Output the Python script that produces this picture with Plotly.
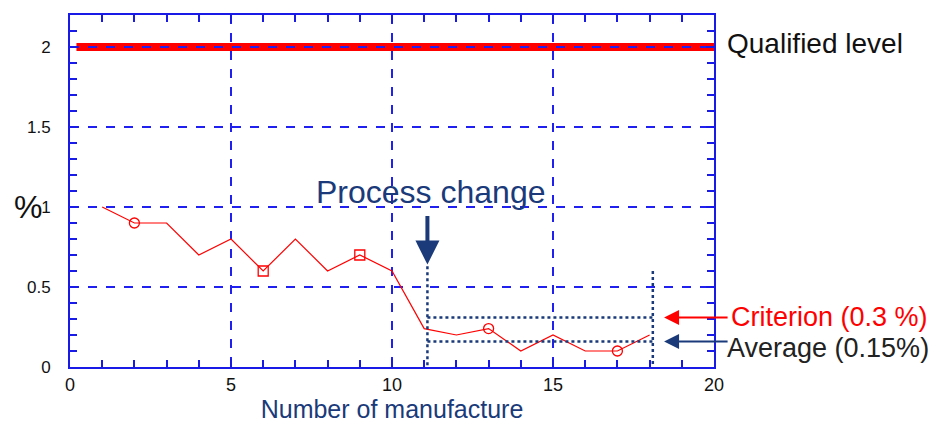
import plotly.graph_objects as go

manufacture = list(range(1, 19))
percent = [1.0, 0.9, 0.9, 0.7, 0.8, 0.6, 0.8, 0.6, 0.7, 0.6,
           0.24, 0.2, 0.24, 0.1, 0.2, 0.1, 0.1, 0.2]
marker_idx = [2, 6, 9, 13, 17]
marker_sym = ["circle-open", "square-open", "square-open", "circle-open", "circle-open"]
qualified_level = 2.0
criterion = 0.31
average = 0.16
change_start = 11.1
change_end = 18.1
xticks = [0, 5, 10, 15, 20]
yticks = [0, 0.5, 1, 1.5, 2]

axis_col = "#1a1ae6"
grid_col = "#2020f0"
navy = "#1a3a7a"
red = "#ff0000"
font = "Liberation Sans"

fig = go.Figure()
fig.add_trace(go.Scatter(x=manufacture, y=percent, mode="lines",
                         line=dict(color=red, width=1.2), showlegend=False))
fig.add_trace(go.Scatter(x=marker_idx, y=[percent[i - 1] for i in marker_idx], mode="markers",
                         marker=dict(symbol=marker_sym, color=red, size=10, line=dict(width=1.3, color=red)),
                         showlegend=False))
# carrier trace for the overlay axes that draw the minor ticks
fig.add_trace(go.Scatter(x=manufacture, y=percent, xaxis="x2", yaxis="y2", mode="lines",
                         line=dict(width=0), opacity=0, hoverinfo="skip", showlegend=False))

fig.add_shape(type="line", x0=0.2, x1=20, y0=qualified_level, y1=qualified_level,
              line=dict(color=red, width=8), layer="below")

dot = dict(color=navy, width=2.5, dash="dot")
fig.add_shape(type="line", x0=change_start, x1=change_start, y0=0.63, y1=-0.06, line=dot)
fig.add_shape(type="line", x0=change_end, x1=change_end, y0=0.6, y1=-0.06, line=dot)
fig.add_shape(type="line", x0=change_start, x1=change_end, y0=criterion, y1=criterion, line=dot)
fig.add_shape(type="line", x0=change_start, x1=change_end, y0=average, y1=average, line=dot)

fig.add_annotation(x=11.1, y=0.64, ax=0, ay=-50, showarrow=True, arrowhead=2, arrowsize=1.2,
                   arrowwidth=4, arrowcolor=navy, text="")
fig.add_annotation(x=11.2, y=0.97, text="Process change", showarrow=False,
                   font=dict(family=font, size=32, color=navy), yanchor="bottom")

fig.add_annotation(x=18.45, y=criterion, ax=65, ay=0, showarrow=True, arrowhead=2, arrowsize=1.5,
                   arrowwidth=2, arrowcolor=red, text="")
fig.add_annotation(x=18.45, y=average, ax=65, ay=0, showarrow=True, arrowhead=2, arrowsize=1.5,
                   arrowwidth=2, arrowcolor=navy, text="")
fig.add_annotation(xref="paper", x=1.024, y=criterion, text="Criterion (0.3 %)", showarrow=False,
                   xanchor="left", font=dict(family=font, size=27, color=red))
fig.add_annotation(xref="paper", x=1.017, y=average - 0.04, text="Average (0.15%)", showarrow=False,
                   xanchor="left", font=dict(family=font, size=27, color="#222222"))
fig.add_annotation(xref="paper", x=1.017, y=qualified_level + 0.02, text="Qualified level", showarrow=False,
                   xanchor="left", font=dict(family=font, size=28, color="#111111"))
fig.add_annotation(xref="paper", x=-0.041, y=1.0, text="%", showarrow=False, xanchor="right",
                   font=dict(family=font, size=32, color="#111111"))

fig.update_layout(
    template="none", width=933, height=417, margin=dict(l=62, r=227, t=7, b=58),
    plot_bgcolor="white", paper_bgcolor="white", showlegend=False,
    xaxis=dict(range=[0, 20], tickvals=xticks, ticks="inside", ticklen=8, tickcolor=axis_col,
               tickwidth=2, showline=True, linecolor=axis_col, linewidth=2, mirror="allticks",
               automargin=False, showgrid=True, gridcolor=grid_col, griddash="dash", gridwidth=2,
               zeroline=False, tickfont=dict(family=font, size=18, color="#111111"),
               title=dict(text="Number of manufacture", standoff=2,
                          font=dict(family=font, size=25, color=navy))),
    yaxis=dict(range=[0, 2.2], tickvals=yticks, ticktext=["0", "0.5", "1", "1.5", "2"],
               ticks="inside", ticklen=8, tickcolor=axis_col, tickwidth=2, automargin=False,
               showline=True, linecolor=axis_col, linewidth=2, mirror="allticks",
               showgrid=True, gridcolor=grid_col, griddash="dash", gridwidth=2, zeroline=False,
               tickfont=dict(family=font, size=17, color="#111111"), ticklabelstandoff=14),
    xaxis2=dict(range=[0, 20], overlaying="x", anchor="y2", dtick=1, tick0=0, ticks="inside",
                ticklen=7, tickcolor=axis_col, tickwidth=2, showticklabels=False, showgrid=False,
                zeroline=False, showline=True, linecolor=axis_col, linewidth=2,
                mirror="allticks", automargin=False),
    yaxis2=dict(range=[0, 2.2], overlaying="y", anchor="x2", dtick=0.1, tick0=0, ticks="inside",
                ticklen=7, tickcolor=axis_col, tickwidth=2, showticklabels=False, showgrid=False,
                zeroline=False, showline=True, linecolor=axis_col, linewidth=2,
                mirror="allticks", automargin=False),
)
fig.write_html("out.html")
